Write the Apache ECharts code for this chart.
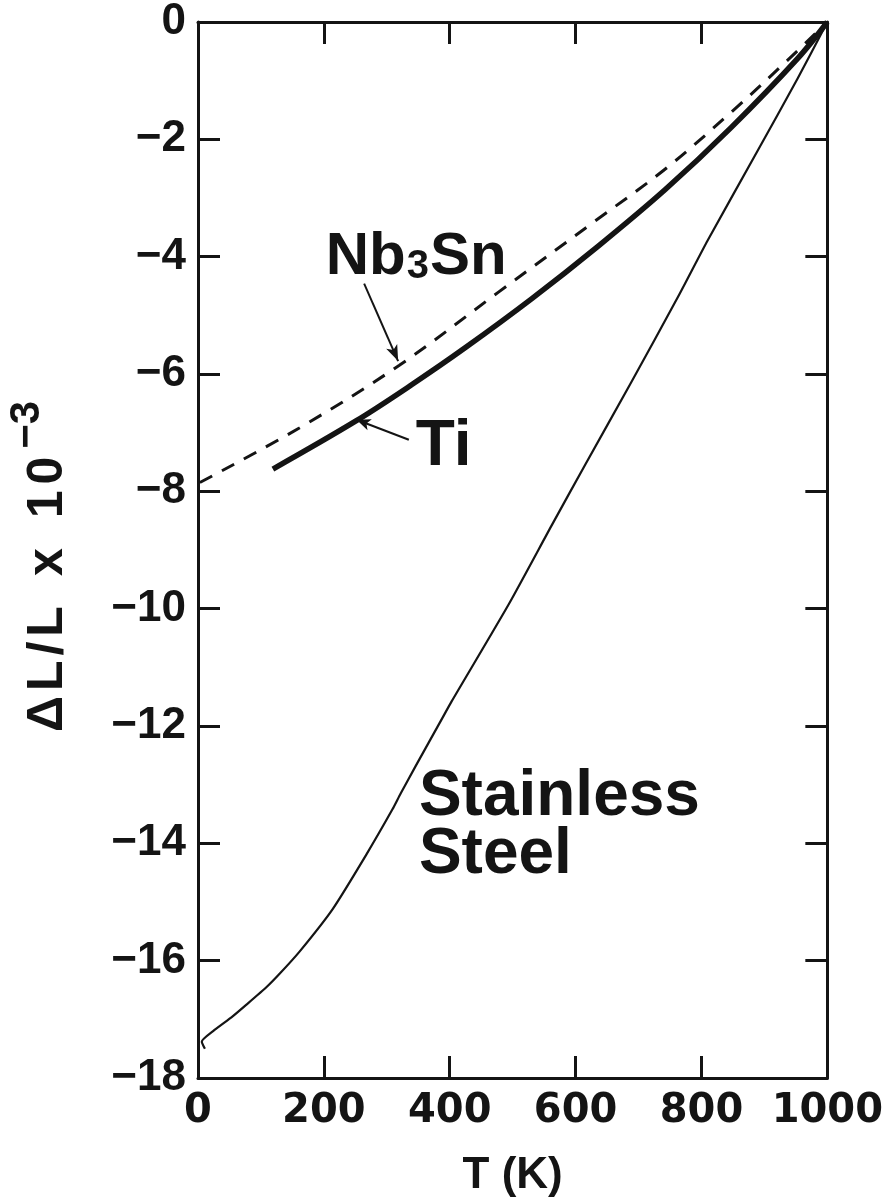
<!DOCTYPE html>
<html>
<head>
<meta charset="utf-8">
<script src="https://cdn.jsdelivr.net/npm/echarts@6/dist/echarts.min.js"></script>
<style>
  html, body { margin: 0; padding: 0; background: #ffffff; }
  #chart { width: 886px; height: 1203px; }
</style>
</head>
<body>
<div id="chart"></div>
<script>
// Thermal contraction dL/L (x10^-3) relative to 1000 K
const xTickValues = [0, 200, 400, 600, 800, 1000];
const xTickLabels = ['0', '200', '400', '600', '800', '1000'];
const yTickValues = [0, -2, -4, -6, -8, -10, -12, -14, -16, -18];
const yTickLabels = ['0', '\u22122', '\u22124', '\u22126', '\u22128', '\u221210', '\u221212', '\u221214', '\u221216', '\u221218'];

// Stainless steel (starts with the short hook at the low-temperature end)
const steelT  = [11, 6, 24, 55, 77, 109, 130, 161, 214, 267, 309, 322, 346, 388, 403, 494, 562, 615, 688, 763, 810, 889, 953, 1000];
const steelDL = [-17.5, -17.38, -17.2, -16.95, -16.75, -16.45, -16.22, -15.85, -15.12, -14.2, -13.42, -13.15, -12.68, -11.87, -11.58, -9.92, -8.58, -7.55, -6.15, -4.68, -3.72, -2.2, -0.96, 0];

// Titanium
const tiT  = [119, 251, 340, 425, 530, 636, 742, 847, 953, 1000];
const tiDL = [-7.62, -6.8, -6.18, -5.55, -4.72, -3.82, -2.86, -1.8, -0.62, 0];

// Nb3Sn
const nbT  = [3, 161, 320, 478, 630, 742, 847, 932, 1000];
const nbDL = [-7.85, -6.92, -5.85, -4.6, -3.4, -2.51, -1.54, -0.7, 0];

// Leader arrows for the curve labels: [from, to] in data units
const nbArrow = [[264, -4.46], [318, -5.78]];
const tiArrow = [[335, -7.12], [252, -6.78]];

// Label anchors (top-left corner of each label) in data units
const nbLabelAt = [203, -3.5];
const tiLabelAt = [346, -6.7];
const steelLabelAt = [351, -12.72];

const FONT = '"Liberation Sans", Arial, Helvetica, sans-serif';
const XFONT = '"DejaVu Sans", "Liberation Sans", sans-serif';
const INK = '#141414';

function zip(xs, ys) { return xs.map((x, i) => [x, ys[i]]); }
function xLabel(v) { const i = xTickValues.indexOf(v); return i >= 0 ? xTickLabels[i] : ''; }
function yLabel(v) { const i = yTickValues.indexOf(v); return i >= 0 ? yTickLabels[i] : ''; }

const frameLine = { show: true, onZero: false, lineStyle: { color: INK, width: 3 } };
const frameTick = { show: true, inside: true, length: 22, lineStyle: { color: INK, width: 3 } };

const chart = echarts.init(document.getElementById('chart'), null, { renderer: 'canvas' });

chart.setOption({
  animation: false,
  backgroundColor: '#ffffff',
  grid: { left: 198, right: 56, top: 19, bottom: 120, containLabel: false },
  xAxis: [
    {
      type: 'value', position: 'bottom', min: 0, max: 1000, interval: 200,
      axisLine: frameLine, axisTick: frameTick, splitLine: { show: false },
      axisLabel: {
        show: true, margin: 14, color: INK, fontFamily: XFONT, fontSize: 40,
        fontWeight: 'bold', formatter: xLabel
      },
      name: 'T (K)', nameLocation: 'middle', nameGap: 76,
      nameTextStyle: { color: INK, fontFamily: FONT, fontSize: 44, fontWeight: 'bold' }
    },
    {
      type: 'value', position: 'top', min: 0, max: 1000, interval: 200,
      axisLine: frameLine, axisTick: frameTick, splitLine: { show: false },
      axisLabel: { show: false }
    }
  ],
  yAxis: [
    {
      type: 'value', position: 'left', min: -18, max: 0, interval: 2,
      axisLine: frameLine, axisTick: frameTick, splitLine: { show: false },
      axisLabel: {
        show: true, margin: 12, color: INK, fontFamily: FONT, fontSize: 44,
        fontWeight: 'bold', formatter: yLabel
      }
    },
    {
      type: 'value', position: 'right', min: -18, max: 0, interval: 2,
      axisLine: frameLine, axisTick: frameTick, splitLine: { show: false },
      axisLabel: { show: false }
    }
  ],
  series: [
    {
      name: 'Stainless Steel', type: 'line', data: zip(steelT, steelDL),
      showSymbol: false, smooth: 0.2,
      lineStyle: { color: INK, width: 2.2, join: 'round' }, z: 3
    },
    {
      name: 'Ti', type: 'line', data: zip(tiT, tiDL),
      showSymbol: false, smooth: 0.35,
      lineStyle: { color: INK, width: 5.5, cap: 'butt' }, z: 4,
      markLine: {
        silent: true, symbol: ['none', 'arrow'], symbolSize: [9, 14],
        lineStyle: { color: INK, width: 2, type: 'solid' }, label: { show: false },
        data: [[{ coord: tiArrow[0] }, { coord: tiArrow[1] }]]
      }
    },
    {
      name: 'Nb3Sn', type: 'line', data: zip(nbT, nbDL),
      showSymbol: false, smooth: 0.35,
      lineStyle: { color: INK, width: 3, type: [14, 11] }, z: 4,
      markLine: {
        silent: true, symbol: ['none', 'arrow'], symbolSize: [9, 16],
        lineStyle: { color: INK, width: 2, type: 'solid' }, label: { show: false },
        data: [[{ coord: nbArrow[0] }, { coord: nbArrow[1] }]]
      }
    }
  ]
});

// Text width helper for laying out the rotated axis title
const measureCtx = document.createElement('canvas').getContext('2d');
function textWidth(str, size) {
  measureCtx.font = 'bold ' + size + 'px ' + FONT;
  return measureCtx.measureText(str).width;
}

// Rotated y-axis title "ΔL/L x 10" with a raised "−3", set letter by letter
const T_SIZE = 50, S_SIZE = 42;
const titleGlyphs = [
  { t: '\u0394', gap: 0 }, { t: 'L', gap: 5 }, { t: '/', gap: 5 }, { t: 'L', gap: 5 },
  { t: 'x', gap: 30 }, { t: '1', gap: 30 }, { t: '0', gap: 6 },
  { t: '\u22123', gap: 8, sup: true }
];
const titleStyle = (t, size) => ({ text: t, fontFamily: FONT, fontSize: size, fontWeight: 'bold', fill: INK, align: 'left', verticalAlign: 'middle' });
const titleChildren = [];
let cursor = 0;
titleGlyphs.forEach(g => {
  const size = g.sup ? S_SIZE : T_SIZE;
  cursor += g.gap;
  titleChildren.push({ type: 'text', x: cursor, y: g.sup ? -21 : 0, style: titleStyle(g.t, size) });
  cursor += textWidth(g.t, size);
});

// Curve labels, anchored through the chart's own coordinate system
function px(pt) { return chart.convertToPixel({ gridIndex: 0 }, pt); }
const nbP = px(nbLabelAt), tiP = px(tiLabelAt), stP = px(steelLabelAt);
const plotBottom = px([0, -18])[1];

chart.setOption({
  graphic: [
    {
      type: 'group', x: 48, y: plotBottom - 346, rotation: Math.PI / 2, silent: true,
      children: titleChildren
    },
    {
      type: 'text', x: nbP[0], y: nbP[1], silent: true,
      style: {
        text: '{a|Nb}{s|3}{a|Sn}',
        rich: {
          a: { fontFamily: FONT, fontSize: 60, fontWeight: 'bold', fill: INK, lineHeight: 60, verticalAlign: 'top' },
          s: { fontFamily: FONT, fontSize: 40, fontWeight: 'bold', fill: INK, lineHeight: 40, padding: [58, 1, 0, 1], verticalAlign: 'bottom' }
        },
        verticalAlign: 'top', align: 'left'
      }
    },
    {
      type: 'text', x: tiP[0], y: tiP[1], silent: true,
      style: { text: 'Ti', fontFamily: FONT, fontSize: 64, fontWeight: 'bold', fill: INK, verticalAlign: 'top', align: 'left' }
    },
    {
      type: 'text', x: stP[0], y: stP[1], silent: true,
      style: { text: 'Stainless\nSteel', fontFamily: FONT, fontSize: 64, fontWeight: 'bold', lineHeight: 58, fill: INK, verticalAlign: 'top', align: 'left' }
    }
  ]
});
</script>
</body>
</html>
